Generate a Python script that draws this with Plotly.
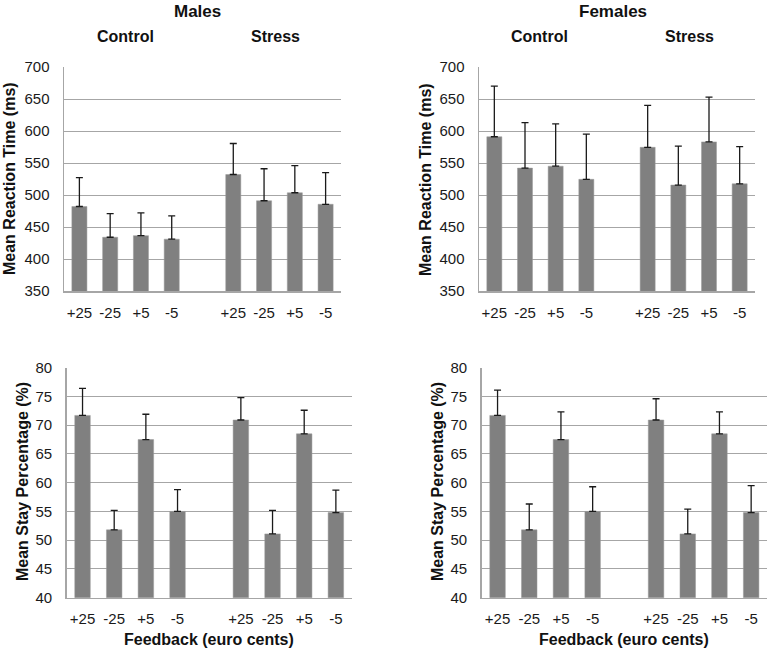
import plotly.graph_objects as go

feedback = ["+25", "-25", "+5", "-5"]
groups = ["Control", "Stress"]

# Reaction time (ms): bar means and top of error bar
male_rt_control = [482, 434, 436.5, 431]
male_rt_control_top = [527, 471, 472, 467.5]
male_rt_stress = [532, 491, 503.5, 485.5]
male_rt_stress_top = [580.5, 541, 546, 535]

female_rt_control = [591, 542, 545, 524.5]
female_rt_control_top = [670, 613, 611, 595]
female_rt_stress = [574.5, 515.5, 583, 517.5]
female_rt_stress_top = [640, 576.5, 653, 575.5]

# Stay percentage (%)
male_stay_control = [71.7, 51.8, 67.5, 55.0]
male_stay_control_top = [76.4, 55.2, 71.9, 58.8]
male_stay_stress = [70.9, 51.1, 68.5, 54.8]
male_stay_stress_top = [74.8, 55.2, 72.6, 58.7]

female_stay_control = [71.7, 51.8, 67.5, 55.0]
female_stay_control_top = [76.1, 56.3, 72.3, 59.3]
female_stay_stress = [70.9, 51.1, 68.5, 54.8]
female_stay_stress_top = [74.6, 55.4, 72.3, 59.5]

rt_ticks = [350, 400, 450, 500, 550, 600, 650, 700]
stay_ticks = [40, 45, 50, 55, 60, 65, 70, 75, 80]

W, H = 772, 653
FONT = "Liberation Sans, Arial, sans-serif"
BAR = "#808080"
GRID = "#a6a6a6"

cats = [g + f for g in ["C", "S"] for f in feedback]
cat_order = cats[:4] + ["gap"] + cats[4:]
tick_text = feedback + [""] + feedback

fig = go.Figure()

panels = [
    (male_rt_control, male_rt_control_top, male_rt_stress, male_rt_stress_top,
     (64, 341), (67, 291), (350, 700), rt_ticks),
    (female_rt_control, female_rt_control_top, female_rt_stress, female_rt_stress_top,
     (479, 755), (67, 291), (350, 700), rt_ticks),
    (male_stay_control, male_stay_control_top, male_stay_stress, male_stay_stress_top,
     (66.7, 351.7), (367.7, 597.7), (40, 80), stay_ticks),
    (female_stay_control, female_stay_control_top, female_stay_stress, female_stay_stress_top,
     (481.7, 767), (367.7, 597.7), (40, 80), stay_ticks),
]

for i, (vc, tc, vs, ts, xd, yd, yr, ticks) in enumerate(panels):
    n = "" if i == 0 else str(i + 1)
    vals = vc + vs
    tops = tc + ts
    fig.add_trace(go.Bar(
        x=cats, y=vals,
        marker=dict(color=BAR, line=dict(color="#9a9a9a", width=0.5)),
        width=0.49,
        error_y=dict(type="data", symmetric=False,
                     array=[t - v for t, v in zip(tops, vals)],
                     arrayminus=[0] * len(vals),
                     color="#1a1a1a", thickness=1.3, width=3.5),
        xaxis="x" + n, yaxis="y" + n, showlegend=False,
    ))
    fig.layout["xaxis" + n] = dict(
        domain=[xd[0] / W, xd[1] / W], anchor="y" + n,
        type="category", categoryorder="array", categoryarray=cat_order,
        tickvals=cat_order, ticktext=tick_text, range=[-0.5, 8.5],
        showline=True, linecolor=GRID, linewidth=1.5, ticks="",
        tickfont=dict(family=FONT, size=15, color="#1a1a1a"),
        ticklabelstandoff=7, automargin=False,
        showgrid=False, zeroline=False, fixedrange=True,
    )
    fig.layout["yaxis" + n] = dict(
        domain=[1 - yd[1] / H, 1 - yd[0] / H], anchor="x" + n,
        range=list(yr), tickvals=ticks, showline=True, linecolor=GRID,
        linewidth=1.5, showgrid=True, gridcolor=GRID, gridwidth=1,
        ticks="", tickfont=dict(family=FONT, size=15, color="#1a1a1a"),
        ticklabelstandoff=10, automargin=False,
        zeroline=False, fixedrange=True,
    )

ann = []
def txt(x, y, s, size=16, angle=0):
    ann.append(dict(x=x / W, y=1 - y / H, xref="paper", yref="paper",
                    text="<b>" + s + "</b>", showarrow=False, textangle=angle,
                    font=dict(family=FONT, size=size, color="#111"),
                    xanchor="center", yanchor="middle"))

txt(197, 12, "Males", 17)
txt(613, 12, "Females", 17)
txt(125, 37, groups[0])
txt(275, 37, groups[1])
txt(539, 37, groups[0])
txt(689, 37, groups[1])
txt(10, 179, "Mean Reaction Time (ms)", 16, -90)
txt(426, 179, "Mean Reaction Time (ms)", 16, -90)
txt(22, 482, "Mean Stay Percentage (%)", 16, -90)
txt(437, 482, "Mean Stay Percentage (%)", 16, -90)
txt(209, 639, "Feedback (euro cents)", 16)
txt(624, 639, "Feedback (euro cents)", 16)

fig.update_layout(
    template="none",
    width=W, height=H, margin=dict(l=0, r=0, t=0, b=0, pad=0, autoexpand=False),
    paper_bgcolor="white", plot_bgcolor="white",
    annotations=ann, bargap=0.5, hovermode=False,
)

fig.write_html(
    "out.html",
    config={"displayModeBar": False, "staticPlot": True},
    post_script="document.body.style.margin='0';document.body.style.overflow='hidden';",
)
